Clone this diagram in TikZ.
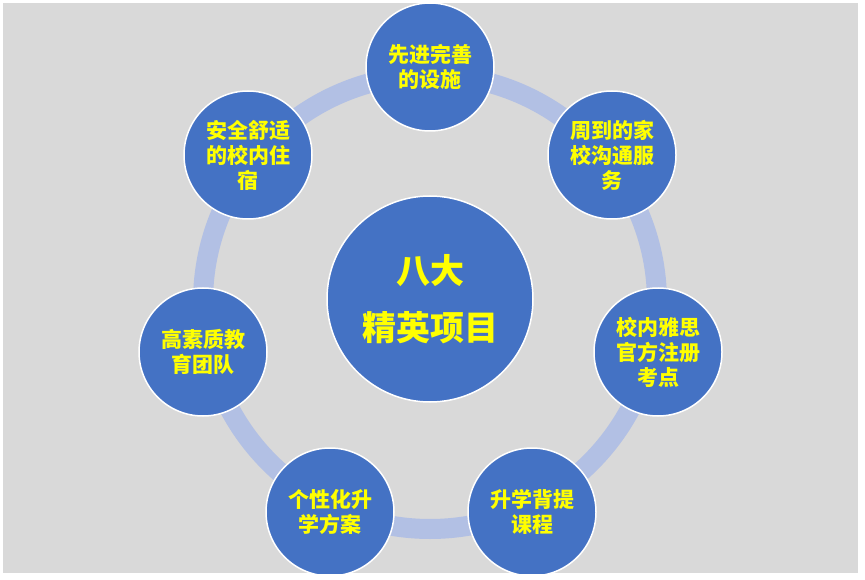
\documentclass[tikz,border=0pt]{standalone}
\usepackage{fontspec}
\newfontfamily\cjk{Noto Sans CJK SC}
\definecolor{bg}{RGB}{217,217,217}
\definecolor{cblue}{RGB}{68,114,196}
\definecolor{ringc}{RGB}{178,192,228}
\definecolor{txt}{RGB}{255,255,0}
\begin{document}
\begin{tikzpicture}[x=1pt,y=-1pt,
  item/.style={circle, fill=cblue, draw=white, line width=1.5pt, minimum size=128pt,
    inner sep=0pt, align=center, text=txt, font=\cjk\bfseries\fontsize{21}{25}\selectfont},
  hub/.style={circle, fill=cblue, draw=white, line width=1.5pt, minimum size=206pt,
    inner sep=0pt, align=center, text=txt, font=\cjk\bfseries\fontsize{34}{57}\selectfont}]
\useasboundingbox (0,0) rectangle (865,580);
\fill[white] (0,0) rectangle (865,580);
\fill[bg] (3,3) rectangle (858,573);
\begin{scope}
\clip (3,3) rectangle (858,573);
\draw[ringc, line width=20pt] (430,302) circle[radius=227];
\node[hub] (hub) at (430,299) {八大\\精英项目};
\node[item] (n1) at (430,67) {先进完善\\的设施};
\node[item] (n2) at (612,155) {周到的家\\校沟通服\\务};
\node[item] (n3) at (658,352) {校内雅思\\官方注册\\考点};
\node[item] (n4) at (532,512) {升学背提\\课程};
\node[item] (n5) at (330,512) {个性化升\\学方案};
\node[item] (n6) at (203,352) {高素质教\\育团队};
\node[item] (n7) at (248,155) {安全舒适\\的校内住\\宿};
\end{scope}
\end{tikzpicture}
\end{document}
